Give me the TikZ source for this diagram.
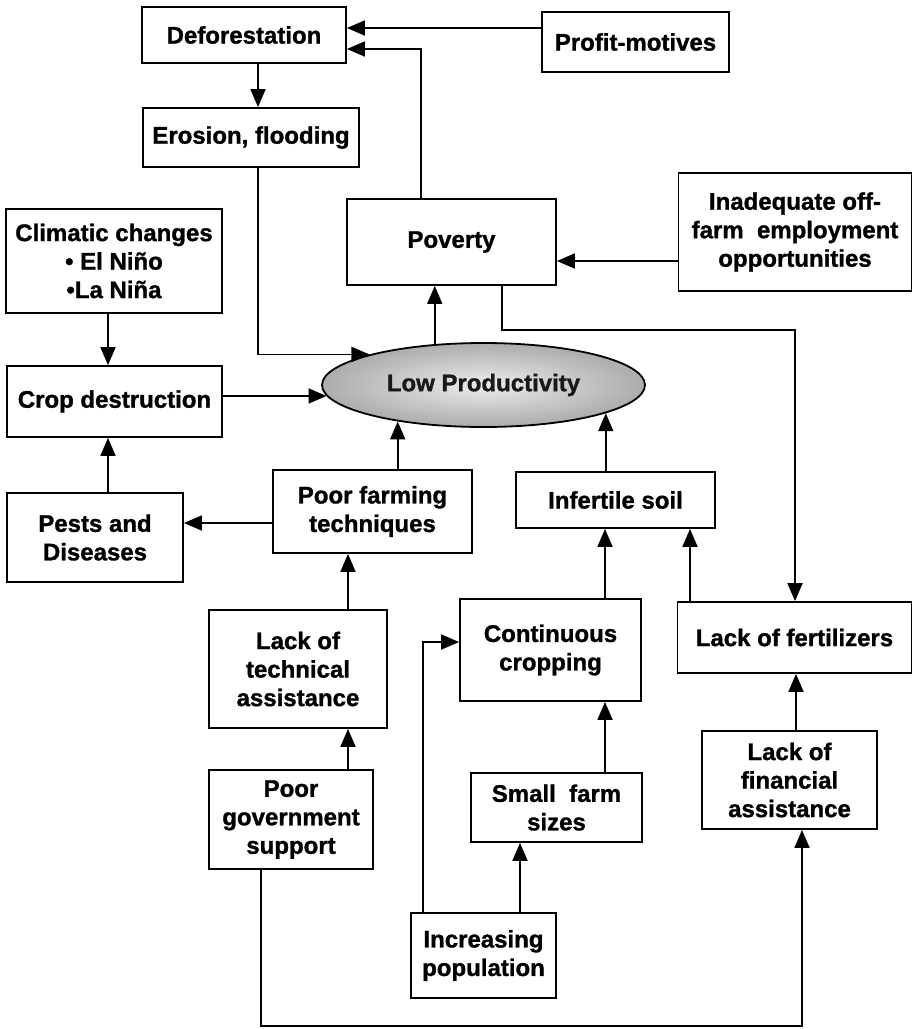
\documentclass[tikz,border=0pt]{standalone}
\usepackage{fontspec}
\setmainfont[BoldFeatures={FakeBold=1.2}]{Liberation Sans}
\usetikzlibrary{arrows.meta,shapes.geometric}
\begin{document}
\begin{tikzpicture}[x=1pt,y=-1pt,
  box/.style={draw, line width=1.8pt, align=center, inner sep=0pt,
    font=\fontsize{24}{28.5}\selectfont\bfseries},
  arr/.style={line width=1.8pt, -{Triangle[length=18pt,width=15pt]}}]
\useasboundingbox (0,0) rectangle (914,1029);
% nodes
\node[box, minimum width=204pt, minimum height=56pt] (defo) at (244,35) {Deforestation};
\node[box, minimum width=187pt, minimum height=60pt] (prof) at (635.5,42) {Profit-motives};
\node[box, minimum width=216pt, minimum height=59pt] (eros) at (251,137.5) {Erosion, flooding};
\node[box, minimum width=216pt, minimum height=104pt] (clim) at (114,261) {Climatic changes\\ • El Niño\\ •La Niña};
\node[box, minimum width=209pt, minimum height=86pt] (pov) at (451.5,242) {Poverty};
\node[box, minimum width=233pt, minimum height=118pt] (inad) at (795,232) {Inadequate off-\\ farm~~employment\\ opportunities};
\node[box, minimum width=215pt, minimum height=71pt] (crop) at (114.5,401.5) {Crop destruction};
\node[ellipse, draw, line width=1.8pt, minimum width=323pt, minimum height=84pt, inner sep=0pt,
  inner color=gray!15, outer color=gray!65, text=black!90,
  font=\fontsize{24}{28.5}\selectfont\bfseries] (ell) at (483.5,385) {Low Productivity};
\node[box, minimum width=176pt, minimum height=89pt] (pests) at (95,537.5) {Pests and\\ Diseases};
\node[box, minimum width=199pt, minimum height=83pt] (pf) at (372.5,511.5) {Poor farming\\ techniques};
\node[box, minimum width=199pt, minimum height=56pt] (inf) at (615.5,500) {Infertile soil};
\node[box, minimum width=181pt, minimum height=102pt] (cont) at (550.5,650) {Continuous\\ cropping};
\node[box, minimum width=234pt, minimum height=71pt] (lfert) at (794.5,637.5) {Lack of fertilizers};
\node[box, minimum width=178pt, minimum height=118pt] (ltech) at (298,669) {Lack of\\ technical\\ assistance};
\node[box, minimum width=175pt, minimum height=98pt] (lfin) at (789.5,780) {Lack of\\ financial\\ assistance};
\node[box, minimum width=164pt, minimum height=99pt] (pgov) at (291,819.5) {Poor\\ government\\ support};
\node[box, minimum width=171pt, minimum height=69pt] (small) at (556.5,807.5) {Small~~farm\\ sizes};
\node[box, minimum width=145pt, minimum height=85pt] (incpop) at (483.5,955.5) {Increasing\\ population};
% helper coordinates
\coordinate (yp) at (0,28);
\coordinate (pv1) at (421,49);
\coordinate (xd) at (258,0);
\coordinate (x108) at (108,0);
\coordinate (ypf) at (0,523);
\coordinate (yin) at (0,261);
\coordinate (pl1) at (502,330);
\coordinate (pl2) at (795,330);
\coordinate (x605) at (605,0);
\coordinate (x690) at (690,0);
\coordinate (x348) at (348,0);
\coordinate (gb1) at (261,1026);
\coordinate (gb2) at (802,1026);
\coordinate (x520) at (520,0);
\coordinate (ip1) at (423,642);
\coordinate (x796) at (796,0);
% connectors
\draw[arr] (prof.west |- yp) -- (defo.east |- yp);
\draw[arr] (pov.north -| pv1) -- (pv1) -- (defo.east |- pv1);
\draw[arr] (defo.south -| xd) -- (eros.north -| xd);
\draw[arr] (eros.south -| xd) |- (ell.165);
\draw[arr] (clim.south -| x108) -- (crop.north -| x108);
\draw[arr] (crop.east |- ell.184) -- (ell.184);
\draw[arr] (pests.north -| x108) -- (crop.south -| x108);
\draw[arr] (pf.west |- ypf) -- (pests.east |- ypf);
\draw[arr] (pf.north -| ell.203) -- (ell.203);
\draw[arr] (inf.north -| ell.347) -- (ell.347);
\draw[arr] (ell.140) -- (ell.140 |- pov.south);
\draw[arr] (inad.west |- yin) -- (pov.east |- yin);
\draw[arr] (pov.south -| pl1) -- (pl1) -- (pl2) -- (lfert.north -| pl2);
\draw[arr] (cont.north -| x605) -- (inf.south -| x605);
\draw[arr] (lfert.north -| x690) -- (inf.south -| x690);
\draw[arr] (ltech.north -| x348) -- (pf.south -| x348);
\draw[arr] (pgov.north -| x348) -- (ltech.south -| x348);
\draw[arr] (pgov.south -| gb1) -- (gb1) -- (gb2) -- (lfin.south -| gb2);
\draw[arr] (small.north -| x605) -- (cont.south -| x605);
\draw[arr] (incpop.north -| x520) -- (small.south -| x520);
\draw[arr] (incpop.north -| ip1) -- (ip1) -- (cont.west |- ip1);
\draw[arr] (lfin.north -| x796) -- (lfert.south -| x796);
\end{tikzpicture}
\end{document}
